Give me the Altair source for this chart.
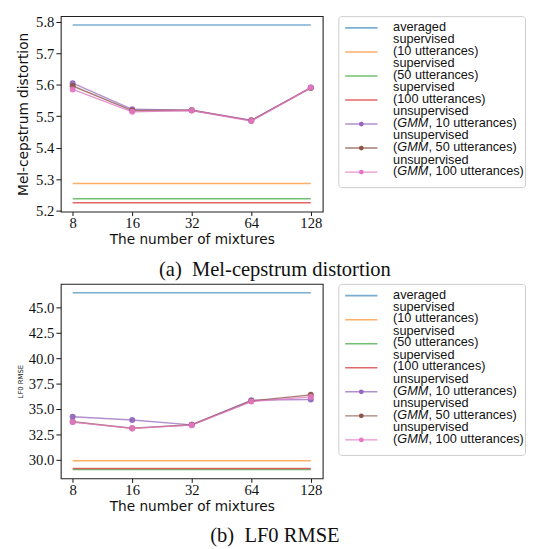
import altair as alt
import pandas as pd

# ---------------- data ----------------
mixtures = [8, 16, 32, 64, 128]
series = [
    "averaged",
    "supervised (10 utterances)",
    "supervised (50 utterances)",
    "supervised (100 utterances)",
    "unsupervised (GMM, 10 utterances)",
    "unsupervised (GMM, 50 utterances)",
    "unsupervised (GMM, 100 utterances)",
]
colors = ["#1f77b4", "#ff7f0e", "#2ca02c", "#d62728", "#9467bd", "#8c564b", "#e377c2"]

# (a) Mel-cepstrum distortion
mcd_baselines = [5.790, 5.286, 5.238, 5.225]          # averaged, sup 10, sup 50, sup 100
mcd_unsup_10 = [5.605, 5.522, 5.519, 5.487, 5.591]
mcd_unsup_50 = [5.596, 5.518, 5.519, 5.486, 5.590]
mcd_unsup_100 = [5.585, 5.514, 5.518, 5.485, 5.591]
mcd_ticks = [5.2, 5.3, 5.4, 5.5, 5.6, 5.7, 5.8]

# (b) LF0 RMSE
lf0_baselines = [46.45, 29.92, 29.05, 29.15]
lf0_unsup_10 = [34.25, 33.92, 33.45, 35.88, 35.95]
lf0_unsup_50 = [33.75, 33.12, 33.46, 35.80, 36.40]
lf0_unsup_100 = [33.72, 33.10, 33.42, 35.74, 36.20]
lf0_ticks = [30.0, 32.5, 35.0, 37.5, 40.0, 42.5, 45.0]

legend_first = ["averaged", "supervised", "supervised", "supervised",
                "unsupervised", "unsupervised", "unsupervised"]
legend_second = ["", "(10 utterances)", "(50 utterances)", "(100 utterances)", "", "", ""]
legend_gmm_tail = ["", "", "", "", ", 10 utterances)", ", 50 utterances)", ", 100 utterances)"]

# styles
mcd_opacity = [0.6, 0.8, 0.9, 0.75, 0.65, 0.9, 0.8]
mcd_width = [1.6, 1.4, 1.3, 1.4, 1.3, 1.3, 1.3]
lf0_opacity = [0.95, 0.8, 0.5, 0.8, 0.75, 0.55, 0.75]
lf0_width = [1.3, 1.3, 2.4, 1.6, 1.3, 2.0, 1.4]

SERIF = "Liberation Serif"
SANS = "DejaVu Sans"
LEG = "Liberation Sans"

color_enc = alt.Color("series:N", scale=alt.Scale(domain=series, range=colors), legend=None)


def make_plot(baselines, unsup, ytitle, ytitle_size, ytitle_pad, ydomain, yticks, height, opac, widths):
    rules = pd.DataFrame({
        "series": series[:4],
        "value": baselines,
        "x0": [mixtures[0]] * 4,
        "x1": [mixtures[-1]] * 4,
    })
    rows = []
    for s, vals in zip(series[4:], unsup):
        for m, v in zip(mixtures, vals):
            rows.append({"series": s, "mix": m, "value": v})
    lines = pd.DataFrame(rows)

    xscale = alt.Scale(type="log", base=2, domain=[8 / 2 ** 0.2, 128 * 2 ** 0.2], nice=False)
    xaxis = alt.Axis(values=mixtures, format="d", title="The number of mixtures", grid=False,
                     domain=False, tickSize=4, labelPadding=0, labelFlush=False,
                     titleFont=SANS, titleFontSize=14, titleFontWeight="normal", titlePadding=3)
    yscale = alt.Scale(domain=ydomain, nice=False, zero=False)
    yaxis = alt.Axis(values=yticks, format=".1f", title=ytitle, grid=False, domain=False,
                     tickSize=5, labelPadding=2,
                     titleFont=SANS, titleFontSize=ytitle_size, titleFontWeight="normal",
                     titlePadding=ytitle_pad)
    op_enc = alt.Opacity("series:N", scale=alt.Scale(domain=series, range=opac), legend=None)
    sw_enc = alt.StrokeWidth("series:N", scale=alt.Scale(domain=series, range=widths), legend=None)
    r = alt.Chart(rules).mark_rule().encode(
        x=alt.X("x0:Q", scale=xscale, axis=xaxis),
        x2="x1:Q",
        y=alt.Y("value:Q", scale=yscale, axis=yaxis),
        color=color_enc, opacity=op_enc, strokeWidth=sw_enc,
    )
    l = alt.Chart(lines).mark_line().encode(
        x=alt.X("mix:Q", scale=xscale, axis=xaxis),
        y=alt.Y("value:Q", scale=yscale, axis=yaxis),
        color=color_enc, opacity=op_enc, strokeWidth=sw_enc,
        detail="series:N",
    )
    p = alt.Chart(lines).mark_point(filled=True, size=38, opacity=0.95).encode(
        x=alt.X("mix:Q", scale=xscale, axis=xaxis),
        y=alt.Y("value:Q", scale=yscale, axis=yaxis),
        color=color_enc,
    )
    return alt.layer(r, l, p).properties(
        width=268, height=height,
        view=alt.ViewBackground(stroke="#222", strokeWidth=1.1),
    )


def make_legend(opac, widths):
    ysc = alt.Scale(domain=[-12 / 24.6, 163 / 24.6], reverse=True, nice=False, zero=False)
    sym = pd.DataFrame({"series": series, "idx": list(range(7))})
    op_enc = alt.Opacity("series:N", scale=alt.Scale(domain=series, range=opac), legend=None)
    sw_enc = alt.StrokeWidth("series:N", scale=alt.Scale(domain=series, range=widths), legend=None)
    rl = alt.Chart(sym).mark_rule().encode(
        x=alt.value(7), x2=alt.value(40),
        y=alt.Y("idx:Q", scale=ysc, axis=None),
        color=color_enc, opacity=op_enc, strokeWidth=sw_enc,
    )
    pt = alt.Chart(sym.iloc[4:]).mark_point(filled=True, size=24, opacity=1).encode(
        x=alt.value(23.5),
        y=alt.Y("idx:Q", scale=ysc, axis=None),
        color=color_enc,
    )
    plain, ital, tail = [], [], []
    for i in range(7):
        if i == 0:
            plain.append({"pos": i - 0.04, "text": legend_first[i]})
            continue
        plain.append({"pos": i - 0.52, "text": legend_first[i]})
        if legend_second[i]:
            plain.append({"pos": i - 0.05, "text": legend_second[i]})
        else:
            plain.append({"pos": i - 0.05, "text": "("})
            ital.append({"pos": i - 0.05, "text": "GMM"})
            tail.append({"pos": i - 0.05, "text": legend_gmm_tail[i]})

    def txt(rows, xpos, style="normal"):
        return alt.Chart(pd.DataFrame(rows)).mark_text(
            align="left", baseline="middle", font=LEG, fontSize=13, fontStyle=style, color="#111"
        ).encode(x=alt.value(xpos), y=alt.Y("pos:Q", scale=ysc, axis=None), text="text:N")

    return alt.layer(rl, pt, txt(plain, 56), txt(ital, 60.3, "italic"), txt(tail, 92.3)).properties(
        width=191, height=175,
        view=alt.ViewBackground(stroke="#cccccc", strokeWidth=1, cornerRadius=3),
    )


def caption(text):
    return alt.TitleParams(text, orient="bottom", anchor="middle", font=SERIF, fontSize=21,
                           fontWeight="normal", color="#111", offset=12, dx=4)


top = alt.hconcat(
    make_plot(mcd_baselines, [mcd_unsup_10, mcd_unsup_50, mcd_unsup_100],
              "Mel-cepstrum distortion", 14, 5, [5.197, 5.818], mcd_ticks, 200,
              mcd_opacity, mcd_width),
    make_legend(mcd_opacity, mcd_width),
    spacing=14,
).properties(title=caption("(a)\u00a0 Mel-cepstrum distortion"))

bottom = alt.hconcat(
    make_plot(lf0_baselines, [lf0_unsup_10, lf0_unsup_50, lf0_unsup_100],
              "LF0 RMSE", 7, 4.5, [28.18, 47.32], lf0_ticks, 199,
              lf0_opacity, lf0_width),
    make_legend(lf0_opacity, lf0_width),
    spacing=14,
).properties(title=caption("(b)\u00a0 LF0 RMSE"))

chart = alt.vconcat(top, bottom, spacing=3).properties(
    padding={"left": 8, "top": 0, "right": 0, "bottom": 0}
).configure_view(stroke=None).configure_axis(
    labelFont=SERIF, labelFontSize=15, labelColor="#111", tickColor="#111",
    titleColor="#111", titleFont=SANS, titleFontWeight="normal",
)

chart.save("out.html", embed_options={"renderer": "svg", "actions": False})
